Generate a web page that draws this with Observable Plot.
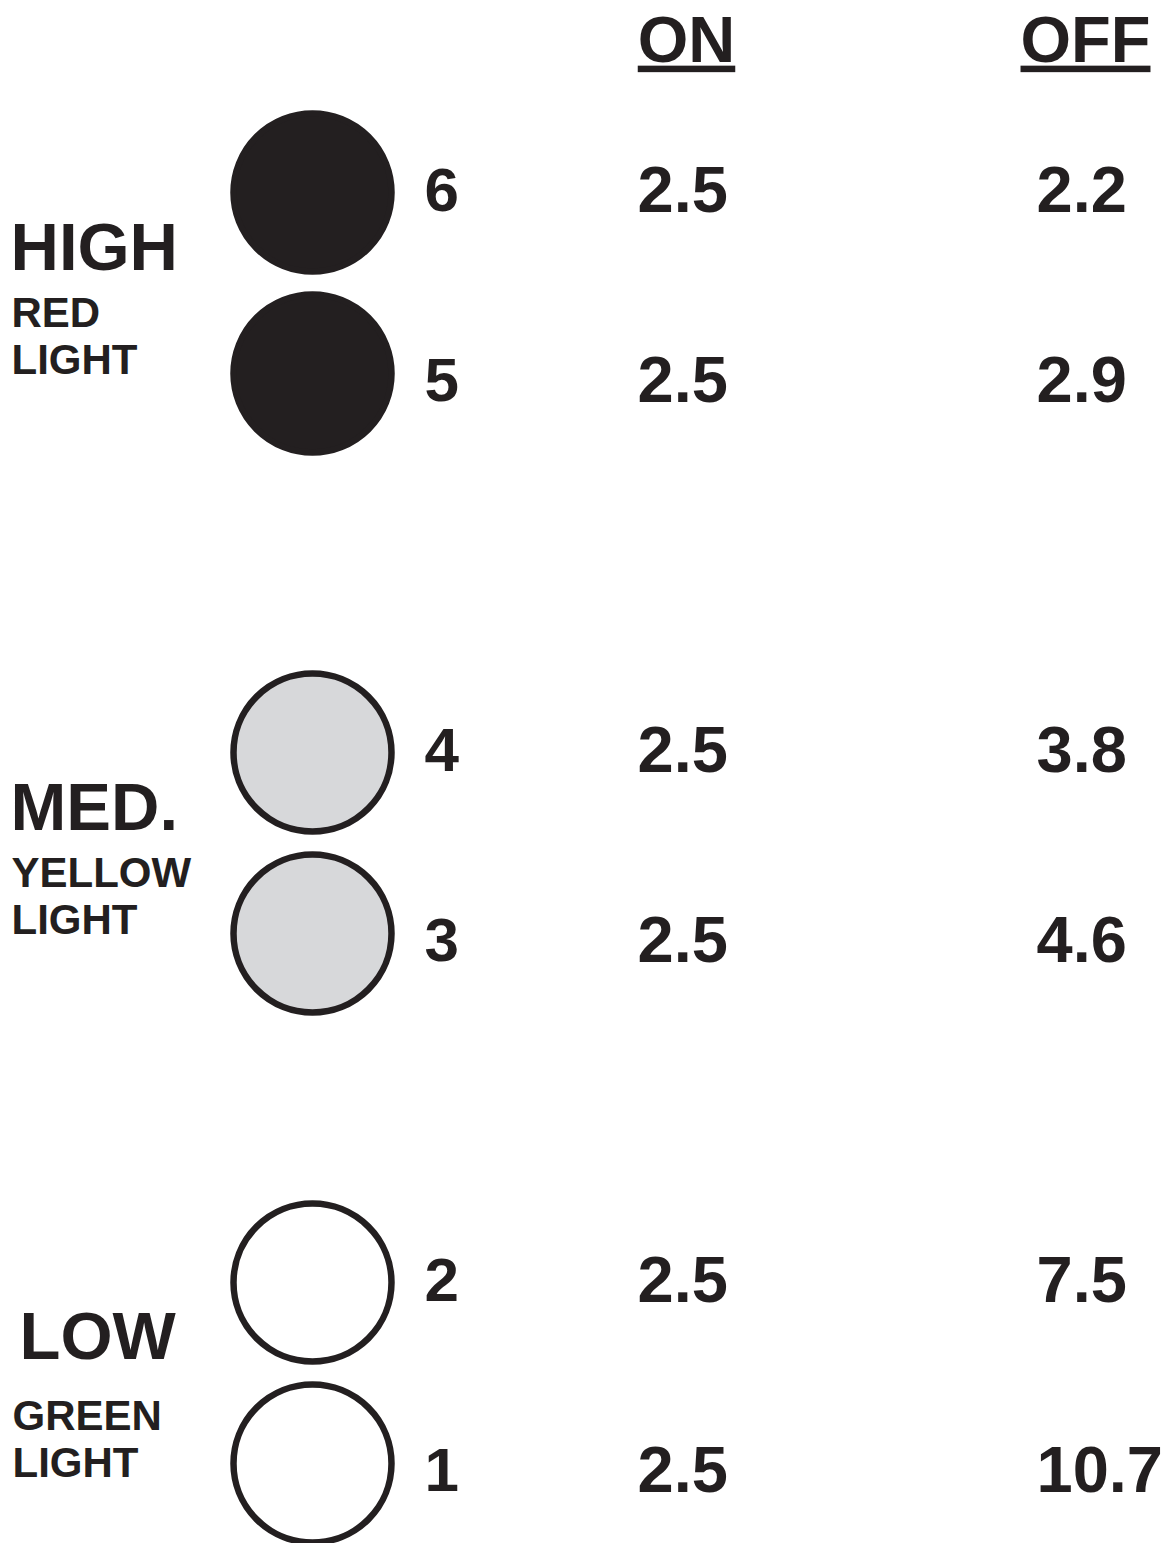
<!DOCTYPE html>
<html><head><meta charset="utf-8">
<script src="https://cdn.jsdelivr.net/npm/d3@7"></script>
<script src="https://cdn.jsdelivr.net/npm/@observablehq/plot@0.6"></script>
<style>
html,body{margin:0;padding:0;background:#fff;}
#chart svg{display:block;}
.hdr text{text-decoration:underline;text-decoration-thickness:3px;text-underline-offset:4px;}
</style></head><body><div id="chart"></div>
<script>
// ---- data ----
const levels = [6, 5, 4, 3, 2, 1];
const onSeconds = [2.5, 2.5, 2.5, 2.5, 2.5, 2.5];
const offSeconds = [2.2, 2.9, 3.8, 4.6, 7.5, 10.7];
const levelGroup = ["HIGH", "HIGH", "MED.", "MED.", "LOW", "LOW"];
const groups = ["HIGH", "MED.", "LOW"];
const lights = ["RED\nLIGHT", "YELLOW\nLIGHT", "GREEN\nLIGHT"];
const columns = ["ON", "OFF"];

// ---- tables built from the arrays ----
const rows = levels.map((level, i) => ({level, group: levelGroup[i], on: onSeconds[i], off: offSeconds[i], top: i % 2 === 0}));
const cells = rows.flatMap(r => [
  {level: r.level, column: "ON", value: r.on, top: r.top},
  {level: r.level, column: "OFF", value: r.off, top: r.top}
]);
const groupRows = groups.map((g, i) => ({group: g, light: lights[i], level: d3.mean(rows.filter(r => r.group === g), r => r.level)}));
const fmt = d3.format(".1f");
const ink = "#231f20";

const chart = Plot.plot({
  width: 1172,
  height: 1543,
  margin: 0,
  style: {fontFamily: "'Liberation Sans', Arial, Helvetica, sans-serif", fontWeight: "bold", color: ink, background: "#fff"},
  x: {type: "point", domain: columns, range: [637, 1036], padding: 0, axis: null},
  y: {type: "linear", domain: levels, range: [192, 373, 752, 933, 1282, 1463], axis: null},
  color: {domain: groups, range: [ink, "#d7d8da", "#ffffff"]},
  marks: [
    // lights
    Plot.dot(rows, {y: "level", frameAnchor: "left", dx: 312, r: 79, fill: "group", stroke: ink, strokeWidth: 6.5}),
    // level numbers
    Plot.text(rows.filter(d => d.top), {y: "level", text: d => String(d.level), frameAnchor: "left", dx: 424, textAnchor: "start", fontSize: 62, fontWeight: "bold", dy: -1.5}),
    Plot.text(rows.filter(d => !d.top), {y: "level", text: d => String(d.level), frameAnchor: "left", dx: 424, textAnchor: "start", fontSize: 62, fontWeight: "bold", dy: 7.5}),
    // ON / OFF values
    Plot.text(cells.filter(d => d.top), {x: "column", y: "level", text: d => fmt(d.value), textAnchor: "start", fontSize: 65, fontWeight: "bold", dy: -1.5}),
    Plot.text(cells.filter(d => !d.top), {x: "column", y: "level", text: d => fmt(d.value), textAnchor: "start", fontSize: 65, fontWeight: "bold", dy: 7.5}),
    // headers
    Plot.text(columns, {x: d => d, text: d => d, frameAnchor: "top", lineAnchor: "top", dy: 15, dx: 49, fontSize: 65, fontWeight: "bold", className: "hdr"}),
    // group labels
    Plot.text(groupRows.filter(d => d.group !== "LOW"), {y: "level", text: "group", frameAnchor: "left", dx: 10, textAnchor: "start", fontSize: 67, fontWeight: "bold", dy: -34}),
    Plot.text(groupRows.filter(d => d.group === "LOW"), {y: "level", text: "group", frameAnchor: "left", dx: 19, textAnchor: "start", fontSize: 67, fontWeight: "bold", dy: -35}),
    Plot.text(groupRows.filter(d => d.group !== "LOW"), {y: "level", text: "light", frameAnchor: "left", dx: 11, textAnchor: "start", fontSize: 42, fontWeight: "bold", lineAnchor: "top", lineHeight: 1.13, dy: 10}),
    Plot.text(groupRows.filter(d => d.group === "LOW"), {y: "level", text: "light", frameAnchor: "left", dx: 12, textAnchor: "start", fontSize: 42, fontWeight: "bold", lineAnchor: "top", lineHeight: 1.13, dy: 23})
  ]
});
document.getElementById("chart").append(chart);
</script>
</body></html>
